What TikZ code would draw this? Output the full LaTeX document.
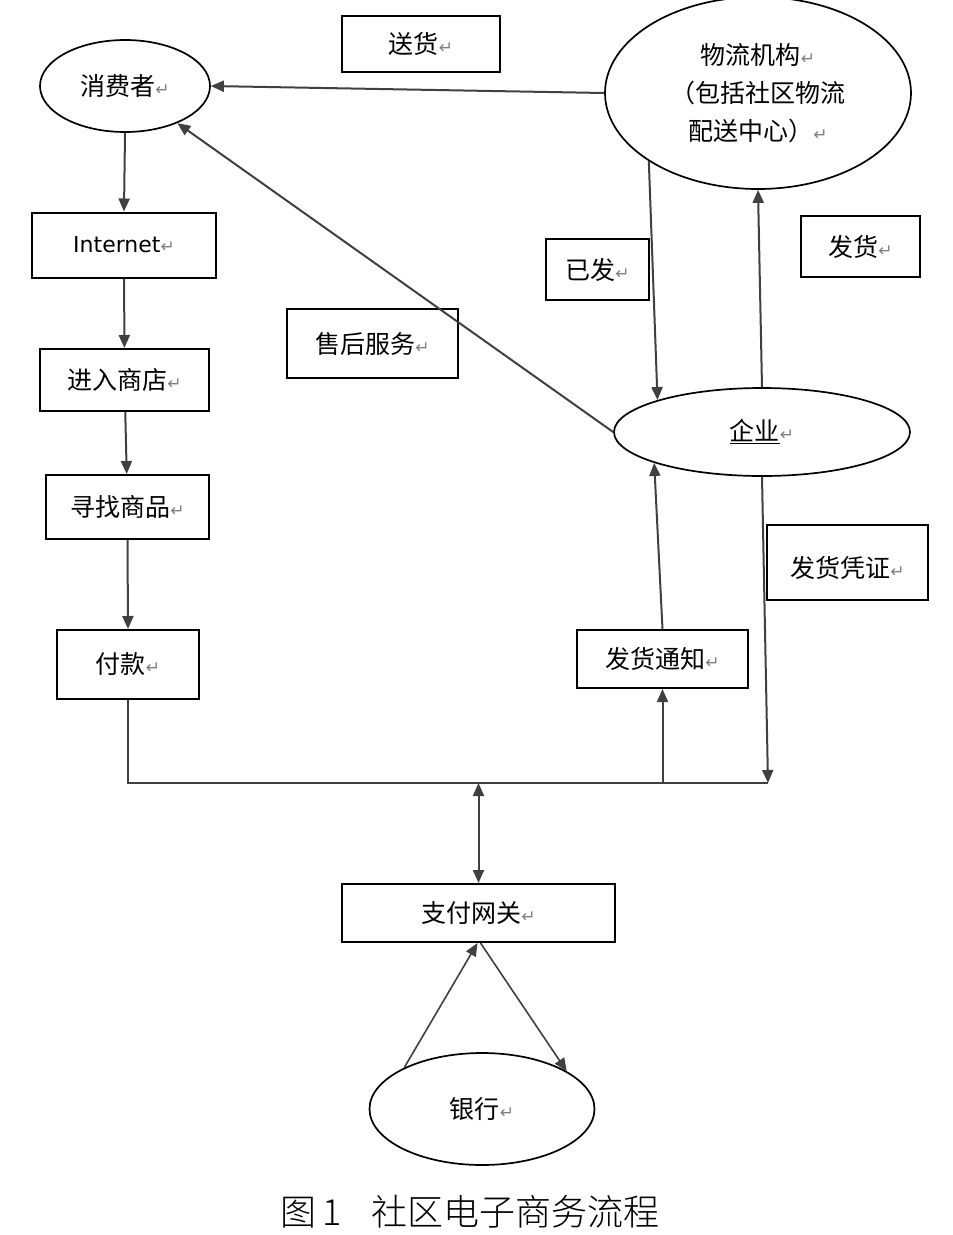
\documentclass[tikz,border=0pt]{standalone}
\usepackage{fontspec}
\setmainfont{Noto Sans CJK SC}
\newfontfamily\dejavu{DejaVu Sans}
\newfontfamily\capfont{Noto Sans CJK SC Light}
\usetikzlibrary{arrows.meta}
\usetikzlibrary{shapes.geometric}

% Word paragraph mark
\newcommand{\ret}{{\dejavu\fontsize{17}{17}\selectfont\color{gray}↵}}

\tikzset{
  box/.style={draw, line width=2pt, inner sep=0pt},
  oval/.style={draw, ellipse, line width=1.7pt, inner sep=0pt},
  flow/.style={line width=2pt, draw=black!75},
}

\begin{document}
\begin{tikzpicture}[x=1pt, y=-1pt, font=\fontsize{25}{38}\selectfont,
    >={Triangle[length=13pt,width=11pt]}]
    \useasboundingbox (0,0) rectangle (953,1235);
    % Consumer
    \node [oval, minimum width=170, minimum height=92] (xiaofei) at (125,86) {消费者\ret};
    % Delivery
    \node [box, minimum width=158, minimum height=56] (songhuo) at (421,44) {送货\ret};
    % Logistics agency
    \node [oval, minimum width=306, minimum height=192, align=center] (wuliu) at (758,93)
      {物流机构\ret\\（包括社区物流\\配送中心）\ret};
    \draw [flow, ->] (wuliu.west) -- (xiaofei.east);
    % Shopping chain
    \node [box, minimum width=184, minimum height=65] (internet) at (124,245)
      {{\dejavu\fontsize{22}{22}\selectfont Internet}\ret};
    \node [box, minimum width=169, minimum height=62] (jinru) at (124.5,380) {进入商店\ret};
    \node [box, minimum width=163, minimum height=64] (xunzhao) at (127.5,507) {寻找商品\ret};
    \node [box, minimum width=142, minimum height=69] (fukuan) at (128,664.5) {付款\ret};
    \draw [flow, ->] (xiaofei.south) -- (internet.north);
    \draw [flow, ->] (internet) -- (jinru);
    \draw [flow, ->] (jinru) -- (xunzhao);
    \draw [flow, ->] (xunzhao.south) -- (fukuan.north);
    % Enterprise
    \node [oval, minimum width=296, minimum height=88] (qiye) at (762,432) {\underline{企业}\ret};
    \node [box, minimum width=171, minimum height=69] (shouhou) at (372.5,343.5) {售后服务\ret};
    \draw [flow, ->] (qiye.west) -- (xiaofei);
    % Shipped / ship
    \node [box, minimum width=103, minimum height=61] (yifa) at (597.5,269.5) {已发\ret};
    \node [box, minimum width=119, minimum height=61] (fahuo) at (860.5,246.5) {发货\ret};
    \draw [flow, ->] (wuliu.212) -- (qiye.163);
    \draw [flow, ->] (qiye.north) -- (wuliu.south);
    % Voucher and notice
    \node [box, minimum width=161, minimum height=75, text height=33] (pingzheng) at (847.5,562.5) {发货凭证\ret};
    \node [box, minimum width=171, minimum height=58] (tongzhi) at (662.5,659) {发货通知\ret};
    \draw [flow, ->] (tongzhi.north) -- (qiye.196);
    % Payment line
    \coordinate (jiaohui) at (768,783);
    \node [box, minimum width=273, minimum height=58] (zhifu) at (478.5,913) {支付网关\ret};
    \draw [flow] (fukuan.south) |- (jiaohui);
    \draw [flow, ->] (qiye.south) -- (jiaohui);
    \draw [flow, ->] (tongzhi.south |- jiaohui) -- (tongzhi.south);
    \draw [flow, <->] (zhifu.north |- jiaohui) -- (zhifu.north);
    % Bank
    \node [oval, minimum width=225, minimum height=112] (yinhang) at (482,1109) {银行\ret};
    \draw [flow, line width=1.6pt, ->] (yinhang.152) -- ([xshift=-1]zhifu.south);
    \draw [flow, line width=1.6pt, ->] ([xshift=2]zhifu.south) -- (yinhang.24);
    % Caption
    \node (caption) at (470,1212)
      {\capfont\fontsize{36}{36}\selectfont 图\,1\hspace{0.8em}社区电子商务流程};
\end{tikzpicture}
\end{document}
